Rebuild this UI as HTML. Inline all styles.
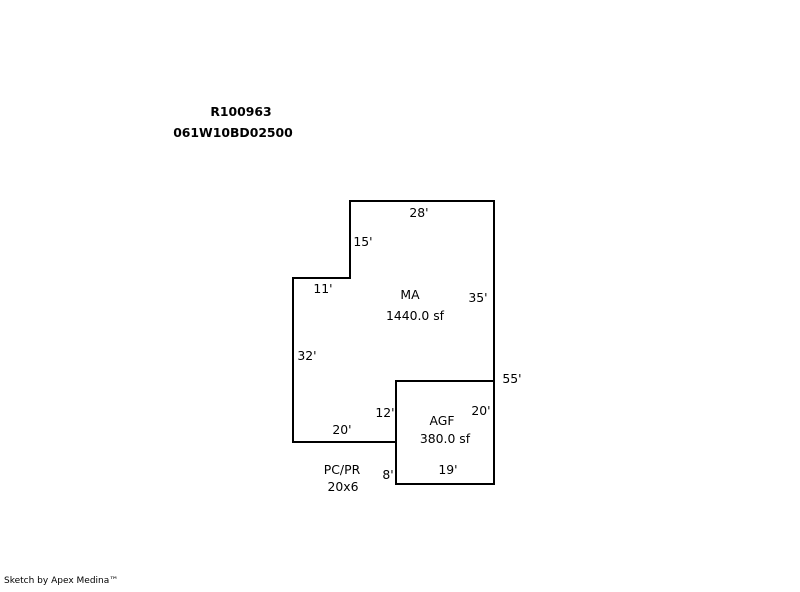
<!DOCTYPE html>
<html><head><style>
body{margin:0;background:#fff;}
svg text{font-family:"DejaVu Sans","Liberation Sans",sans-serif;font-size:12.4px;fill:#000;}
</style></head><body>
<svg width="800" height="587" viewBox="0 0 800 587" xmlns="http://www.w3.org/2000/svg">
<rect width="800" height="587" fill="#fff"/>
<g fill="none" stroke="#000" stroke-width="2">
<polyline points="396,442 293,442 293,278 350,278 350,201 494,201 494,381"/>
<rect x="396" y="381" width="98" height="103"/>
</g>
<g text-anchor="middle">
<text x="241" y="116" font-weight="bold">R100963</text>
<text x="233" y="137" font-weight="bold">061W10BD02500</text>
<text x="419" y="217">28'</text>
<text x="363" y="246">15'</text>
<text x="323" y="293">11'</text>
<text x="410" y="299">MA</text>
<text x="415" y="320">1440.0 sf</text>
<text x="478" y="302">35'</text>
<text x="307" y="360">32'</text>
<text x="512" y="383">55'</text>
<text x="385" y="417">12'</text>
<text x="481" y="415">20'</text>
<text x="442" y="425">AGF</text>
<text x="445" y="443">380.0 sf</text>
<text x="342" y="434">20'</text>
<text x="342" y="474">PC/PR</text>
<text x="343" y="491">20x6</text>
<text x="388" y="479">8'</text>
<text x="448" y="474">19'</text>
</g>
<text x="4" y="583" style="font-size:9px">Sketch by Apex Medina™</text>
</svg>
</body></html>
